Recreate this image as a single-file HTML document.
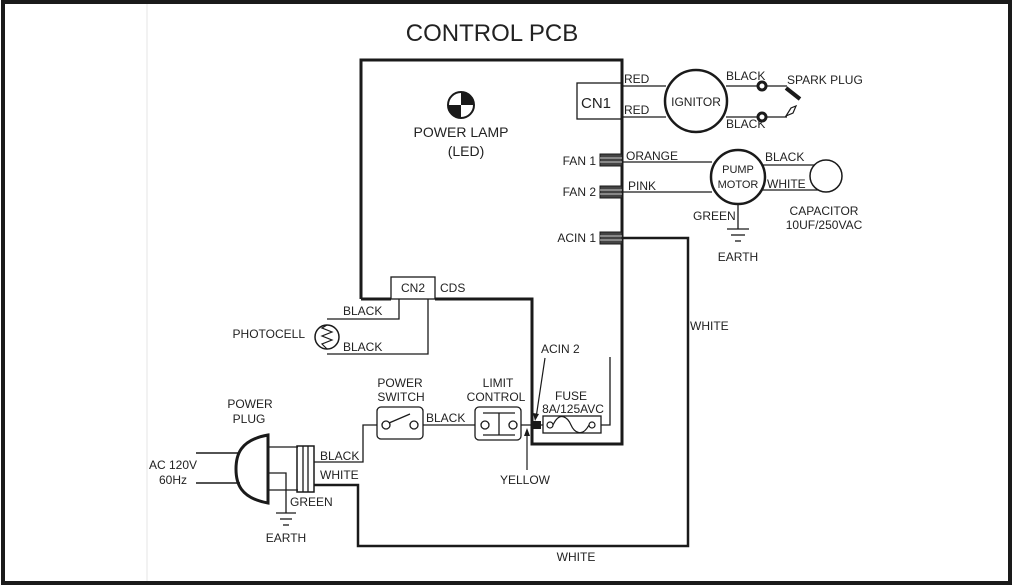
<!DOCTYPE html>
<html><head><style>
html,body{margin:0;padding:0;background:#fff;}
svg{display:block;}
text{font-family:"Liberation Sans",Arial,sans-serif;fill:#222;}
</style></head><body>
<svg width="1019" height="587" viewBox="0 0 1019 587" xmlns="http://www.w3.org/2000/svg">
<rect x="0" y="0" width="1019" height="587" fill="#fff"/>
<rect x="3" y="2" width="1007" height="581" fill="none" stroke="#1a1a1a" stroke-width="4"/>
<line x1="147" y1="4" x2="147" y2="581" stroke="#e4e4e4" stroke-width="1"/>

<text x="492" y="41" font-size="24" text-anchor="middle">CONTROL PCB</text>

<g stroke="#1a1a1a" fill="none">
<path d="M361 290 V60 H622 V444 H532 V299 H435" stroke-width="3"/>
<line x1="361" y1="299" x2="391" y2="299" stroke-width="3"/>
<path d="M361 290 V299" stroke-width="3"/>
<rect x="391" y="277" width="44" height="22" stroke-width="1.3"/>
<rect x="577" y="83" width="45" height="36" stroke-width="1.3"/>
<line x1="622" y1="86" x2="666" y2="86" stroke-width="1.3"/>
<line x1="622" y1="117" x2="666" y2="117" stroke-width="1.3"/>
<circle cx="696" cy="101" r="31" stroke-width="2.5"/>
<line x1="726" y1="86" x2="787" y2="86" stroke-width="1.3"/>
<line x1="726" y1="117" x2="787" y2="117" stroke-width="1.3"/>
<line x1="786" y1="88" x2="800" y2="99" stroke-width="4"/>
<path d="M786 116 L791 108 L796 106 L793 113 Z" stroke-width="1.2"/>
<line x1="622" y1="162" x2="712" y2="162" stroke-width="1.3"/>
<line x1="622" y1="192" x2="712" y2="192" stroke-width="1.3"/>
<circle cx="738" cy="177" r="27" stroke-width="2.5"/>
<line x1="762" y1="165" x2="826" y2="165" stroke-width="1.3"/>
<line x1="762" y1="190" x2="826" y2="190" stroke-width="1.3"/>
<circle cx="826" cy="176" r="16" stroke-width="1.5" fill="#fff"/>
<line x1="738" y1="204" x2="738" y2="229" stroke-width="1.3"/>
<line x1="727" y1="229" x2="749" y2="229" stroke-width="1.3"/>
<line x1="731" y1="235" x2="745" y2="235" stroke-width="1.3"/>
<line x1="735" y1="241" x2="741" y2="241" stroke-width="1.3"/>
<path d="M622 238 H688 V546 H358 V485 H314" stroke-width="2.5"/>
<path d="M399 299 V319 H327" stroke-width="1.3"/>
<path d="M428 299 V354 H327" stroke-width="1.3"/>
<circle cx="327" cy="337" r="12" stroke-width="1.5" fill="#fff"/>
<path d="M327 325 L322 328 L332 332 L322 336 L332 340 L322 344 L327 349" stroke-width="1.2"/>
<path d="M314 462 H363 V425 H377" stroke-width="1.3"/>
<rect x="377" y="407" width="46" height="32" rx="4" stroke-width="1.3"/>
<circle cx="386" cy="425" r="4" stroke-width="1.3"/>
<circle cx="414" cy="425" r="4" stroke-width="1.3"/>
<line x1="389" y1="423" x2="410" y2="414" stroke-width="1.3"/>
<line x1="423" y1="425" x2="475" y2="425" stroke-width="1.3"/>
<rect x="475" y="407" width="46" height="33" rx="4" stroke-width="1.3"/>
<circle cx="485" cy="425" r="4" stroke-width="1.3"/>
<circle cx="513" cy="425" r="4" stroke-width="1.3"/>
<line x1="483" y1="413" x2="515" y2="413" stroke-width="1.3"/>
<line x1="499" y1="413" x2="499" y2="435" stroke-width="1.3"/>
<line x1="483" y1="435" x2="515" y2="435" stroke-width="1.3"/>
<line x1="521" y1="425" x2="543" y2="425" stroke-width="1.3"/>
<rect x="543" y="416" width="58" height="17" stroke-width="1.3"/>
<circle cx="550" cy="425" r="3" stroke-width="1.2"/>
<circle cx="592" cy="425" r="3" stroke-width="1.2"/>
<path d="M553 425 C560 410 568 418 571 425 C574 432 582 438 589 425" stroke-width="1.2"/>
<path d="M601 425 H610 V357" stroke-width="1.3"/>
<line x1="545" y1="358" x2="536" y2="418" stroke-width="1.2"/>
<line x1="527" y1="470" x2="527" y2="432" stroke-width="1.2"/>
<path d="M196 453 H240 M196 483 H240" stroke-width="1.5"/>
<path d="M268 435 C240 440 236 455 236 469 C236 483 240 498 268 503 Z" stroke-width="3"/>
<line x1="268" y1="447" x2="298" y2="447" stroke-width="1.3"/>
<line x1="268" y1="490" x2="298" y2="490" stroke-width="1.3"/>
<rect x="297" y="446" width="17" height="46" stroke-width="1.5"/>
<line x1="303" y1="446" x2="303" y2="492" stroke-width="1.3"/>
<line x1="308" y1="446" x2="308" y2="492" stroke-width="1.3"/>
<path d="M268 473 H286 V513" stroke-width="1.3"/>
<line x1="276" y1="513" x2="296" y2="513" stroke-width="1.3"/>
<line x1="280" y1="519" x2="292" y2="519" stroke-width="1.3"/>
<line x1="283" y1="525" x2="289" y2="525" stroke-width="1.3"/>
</g>
<circle cx="762" cy="86" r="4" fill="#fff" stroke="#1a1a1a" stroke-width="3"/>
<circle cx="762" cy="117" r="4" fill="#fff" stroke="#1a1a1a" stroke-width="3"/>
<rect x="533" y="421" width="8" height="8" fill="#1a1a1a"/>
<path d="M527 428 L524 436 L530 436 Z" fill="#1a1a1a"/>
<path d="M535 421 L533 413 L539 414 Z" fill="#1a1a1a"/>
<g fill="#444" stroke="#1a1a1a" stroke-width="1">
<rect x="600" y="154" width="22" height="12"/>
<rect x="600" y="186" width="22" height="12"/>
<rect x="600" y="232" width="22" height="12"/>
</g>
<g stroke="#ccc" stroke-width="1">
<path d="M600 158H622M600 162H622M600 190H622M600 194H622M600 236H622M600 240H622"/>
</g>
<circle cx="461" cy="105" r="13" fill="#fff" stroke="#1a1a1a" stroke-width="2"/>
<path d="M461 105 V92 A13 13 0 0 1 474 105 Z" fill="#1a1a1a"/>
<path d="M461 105 V118 A13 13 0 0 1 448 105 Z" fill="#1a1a1a"/>

<g font-size="12">
<text x="461" y="137" text-anchor="middle" font-size="14">POWER LAMP</text>
<text x="466" y="156" text-anchor="middle" font-size="14">(LED)</text>
<text x="581" y="108" font-size="15">CN1</text>
<text x="624" y="83">RED</text>
<text x="624" y="114">RED</text>
<text x="696" y="106" text-anchor="middle" font-size="12">IGNITOR</text>
<text x="726" y="80">BLACK</text>
<text x="726" y="128">BLACK</text>
<text x="787" y="84">SPARK PLUG</text>
<text x="596" y="165" text-anchor="end">FAN 1</text>
<text x="596" y="196" text-anchor="end">FAN 2</text>
<text x="596" y="242" text-anchor="end">ACIN 1</text>
<text x="626" y="160">ORANGE</text>
<text x="628" y="190">PINK</text>
<text x="738" y="173" text-anchor="middle" font-size="11">PUMP</text>
<text x="738" y="188" text-anchor="middle" font-size="11">MOTOR</text>
<text x="765" y="161">BLACK</text>
<text x="767" y="188">WHITE</text>
<text x="693" y="220">GREEN</text>
<text x="738" y="261" text-anchor="middle">EARTH</text>
<text x="824" y="215" text-anchor="middle">CAPACITOR</text>
<text x="824" y="229" text-anchor="middle">10UF/250VAC</text>
<text x="690" y="330">WHITE</text>
<text x="576" y="561" text-anchor="middle">WHITE</text>
<text x="413" y="292" text-anchor="middle">CN2</text>
<text x="440" y="292">CDS</text>
<text x="343" y="315">BLACK</text>
<text x="343" y="351">BLACK</text>
<text x="305" y="338" text-anchor="end">PHOTOCELL</text>
<text x="541" y="353">ACIN 2</text>
<text x="400" y="387" text-anchor="middle">POWER</text>
<text x="401" y="401" text-anchor="middle">SWITCH</text>
<text x="498" y="387" text-anchor="middle">LIMIT</text>
<text x="496" y="401" text-anchor="middle">CONTROL</text>
<text x="571" y="400" text-anchor="middle">FUSE</text>
<text x="573" y="413" text-anchor="middle">8A/125AVC</text>
<text x="426" y="422">BLACK</text>
<text x="525" y="484" text-anchor="middle">YELLOW</text>
<text x="250" y="408" text-anchor="middle">POWER</text>
<text x="249" y="423" text-anchor="middle">PLUG</text>
<text x="320" y="460">BLACK</text>
<text x="320" y="479">WHITE</text>
<text x="290" y="506">GREEN</text>
<text x="286" y="542" text-anchor="middle">EARTH</text>
<text x="173" y="469" text-anchor="middle">AC 120V</text>
<text x="173" y="484" text-anchor="middle">60Hz</text>
</g>
</svg>
</body></html>
